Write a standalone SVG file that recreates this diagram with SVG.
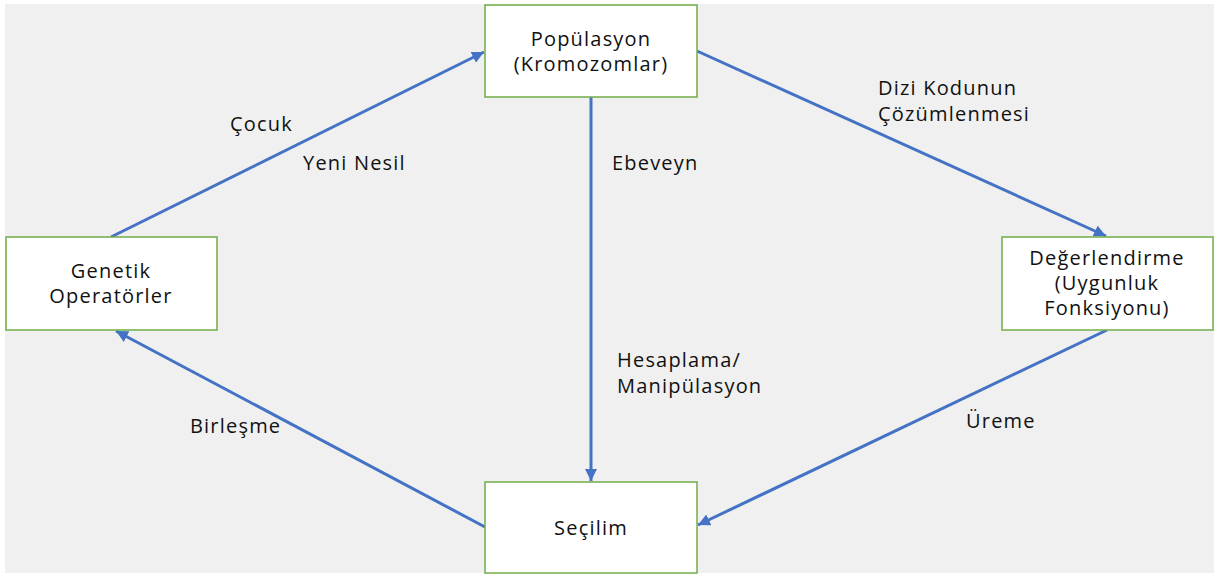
<svg xmlns="http://www.w3.org/2000/svg" width="1223" height="575" viewBox="0 0 1223 575">
  <style>
    .node { fill: #ffffff; stroke: #70ad47; stroke-width: 1.5; }
    .lbl { font-family: "Open Sans", "Noto Sans", sans-serif; font-size: 20px; letter-spacing: 1.2px; fill: #111111; }
    .ctr { text-anchor: middle; }
    .edge { stroke: #4472c4; stroke-width: 3; fill: none; marker-end: url(#head); }
  </style>
  <defs>
    <marker id="head" viewBox="0 0 10 10" refX="10" refY="5" markerWidth="4" markerHeight="4" orient="auto" markerUnits="strokeWidth">
      <path d="M0,0 L10,5 L0,10 z" fill="#4472c4"/>
    </marker>
  </defs>
  <rect x="5" y="4" width="1209" height="569" fill="#f0f0f0"/>

  <g id="connectors">
    <line class="edge" x1="111" y1="237" x2="484" y2="52"/>
    <line class="edge" x1="697" y1="51" x2="1106" y2="236"/>
    <line class="edge" x1="1107" y1="330" x2="698" y2="525"/>
    <line class="edge" x1="485" y1="527" x2="116" y2="331"/>
    <line class="edge" x1="591" y1="97" x2="591" y2="481"/>
  </g>

  <g id="edge-labels" class="lbl">
    <text x="230" y="131">Çocuk</text>
    <text x="303" y="170">Yeni Nesil</text>
    <text x="612" y="170">Ebeveyn</text>
    <text x="878" y="95">Dizi Kodunun</text>
    <text x="878" y="121">Çözümlenmesi</text>
    <text x="617" y="367">Hesaplama/</text>
    <text x="617" y="393">Manipülasyon</text>
    <text x="190" y="433">Birleşme</text>
    <text x="966" y="428">Üreme</text>
  </g>

  <g id="populasyon">
    <rect class="node" x="485" y="5" width="212" height="92"/>
    <text class="lbl ctr" x="591" y="46">Popülasyon</text>
    <text class="lbl ctr" x="591" y="71">(Kromozomlar)</text>
  </g>

  <g id="genetik">
    <rect class="node" x="6" y="237" width="211" height="93"/>
    <text class="lbl ctr" x="111" y="278">Genetik</text>
    <text class="lbl ctr" x="111" y="303">Operatörler</text>
  </g>

  <g id="degerlendirme">
    <rect class="node" x="1002" y="237" width="211" height="93"/>
    <text class="lbl ctr" x="1107" y="265">Değerlendirme</text>
    <text class="lbl ctr" x="1107" y="290">(Uygunluk</text>
    <text class="lbl ctr" x="1107" y="315">Fonksiyonu)</text>
  </g>

  <g id="secilim">
    <rect class="node" x="485" y="482" width="212" height="91"/>
    <text class="lbl ctr" x="591" y="535">Seçilim</text>
  </g>
</svg>
